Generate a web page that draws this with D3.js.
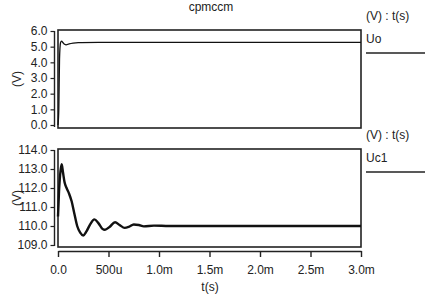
<!DOCTYPE html>
<html><head><meta charset="utf-8">
<script src="https://cdn.jsdelivr.net/npm/d3@7"></script>
<style>body{margin:0;background:#fff}svg{display:block}text{font-family:"Liberation Sans",Arial,sans-serif;fill:#222}</style>
</head><body><svg id="c" width="425" height="295"></svg>
<script>
// Data (time in seconds)
const title = "cpmccm";
const uoTime = [0, 0.000008, 0.000015, 0.000025, 0.000035, 0.000050, 0.000065, 0.000080, 0.000110, 0.000150, 0.000200, 0.000400, 0.001000, 0.002000, 0.003000];
const uoVals = [0, 1.0, 4.2, 5.25, 5.35, 5.25, 5.15, 5.12, 5.18, 5.23, 5.26, 5.27, 5.27, 5.27, 5.27];
const uc1Time = [0, 0.000010, 0.000025, 0.000037, 0.000050, 0.000065, 0.000085, 0.000110, 0.000135, 0.000160, 0.000190, 0.000220, 0.000250, 0.000280, 0.000320, 0.000360, 0.000400, 0.000440, 0.000465, 0.000510, 0.000565, 0.000610, 0.000660, 0.000700, 0.000750, 0.000800, 0.000850, 0.000950, 0.001100, 0.001500, 0.002000, 0.002500, 0.003000];
const uc1Vals = [110.5, 111.8, 112.9, 113.25, 112.8, 112.3, 112.0, 111.7, 111.3, 110.7, 110.0, 109.65, 109.5, 109.7, 110.1, 110.35, 110.15, 109.85, 109.8, 109.95, 110.2, 110.05, 109.9, 109.95, 110.08, 110.05, 109.98, 110.02, 110.0, 110.0, 110.0, 110.0, 110.0];
const xTicks = [0, 0.0005, 0.001, 0.0015, 0.002, 0.0025, 0.003];
const xTickLabels = ["0.0", "500u", "1.0m", "1.5m", "2.0m", "2.5m", "3.0m"];
const uoTicks = [0, 1, 2, 3, 4, 5, 6];
const uc1Ticks = [109, 110, 111, 112, 113, 114];

const svg = d3.select("#c");
const X0 = 58, X1 = 361;
const x = d3.scaleLinear().domain([0, 0.003]).range([X0, X1]);

svg.append("text").attr("x", 211).attr("y", 11).attr("text-anchor", "middle").attr("font-size", 12).text(title);

function panel(o) {
  const y = d3.scaleLinear().domain(o.domain).range([o.yb, o.yt]);
  svg.append("rect").attr("x", X0).attr("y", o.ft).attr("width", X1 - X0).attr("height", o.fb - o.ft)
    .attr("fill", "none").attr("stroke", "#222").attr("stroke-width", 1.6);
  const ax = svg.append("g").attr("transform", `translate(54.5,0)`)
    .call(d3.axisLeft(y).tickValues(o.ticks).tickFormat(d3.format(".1f")).tickSize(4).tickSizeOuter(0).tickPadding(3));
  ax.select(".domain").attr("d", `M0,${o.ft + 1}V${o.fb - 1}`).attr("stroke", "#222").attr("stroke-width", 1.4);
  ax.selectAll(".tick line").attr("stroke", "#222").attr("stroke-width", 1.2);
  ax.selectAll("text").attr("font-size", 12).style("font-family", '"Liberation Sans",Arial,sans-serif').attr("fill", "#222");
  svg.append("text").attr("transform", `translate(21,${(o.ft + o.fb) / 2}) rotate(-90)`)
    .attr("text-anchor", "middle").attr("font-size", 12).text("(V)");
  const line = d3.line().x((d, i) => x(o.t[i])).y(d => y(d)).curve(d3.curveMonotoneX);
  svg.append("path").datum(o.v).attr("d", line).attr("fill", "none")
    .attr("stroke", "#111").attr("stroke-width", o.sw).attr("stroke-linejoin", "round");
  svg.append("text").attr("x", 366).attr("y", o.ft - 10).attr("font-size", 12).text("(V) : t(s)");
  svg.append("text").attr("x", 366).attr("y", o.ft + 13).attr("font-size", 12).text(o.name);
  svg.append("line").attr("x1", 366).attr("x2", 425).attr("y1", o.ft + 23).attr("y2", o.ft + 23)
    .attr("stroke", "#222").attr("stroke-width", 1.3);
}

panel({ ft: 30, fb: 128, yt: 31, yb: 125, domain: [0, 6], ticks: uoTicks, t: uoTime, v: uoVals, sw: 1.3, name: "Uo" });
panel({ ft: 149, fb: 247, yt: 150, yb: 245, domain: [109, 114], ticks: uc1Ticks, t: uc1Time, v: uc1Vals, sw: 2.4, name: "Uc1" });

const xa = svg.append("g").attr("transform", "translate(0,251)")
  .call(d3.axisBottom(x).tickValues(xTicks).tickFormat((d, i) => xTickLabels[i]).tickSize(6).tickSizeOuter(0).tickPadding(8));
xa.select(".domain").attr("stroke", "#222").attr("stroke-width", 1.4);
xa.selectAll(".tick line").attr("stroke", "#222").attr("stroke-width", 1.4);
xa.selectAll("text").attr("font-size", 12).style("font-family", '"Liberation Sans",Arial,sans-serif').attr("fill", "#222");
svg.append("text").attr("x", 210).attr("y", 291).attr("text-anchor", "middle").attr("font-size", 12).text("t(s)");
</script></body></html>
